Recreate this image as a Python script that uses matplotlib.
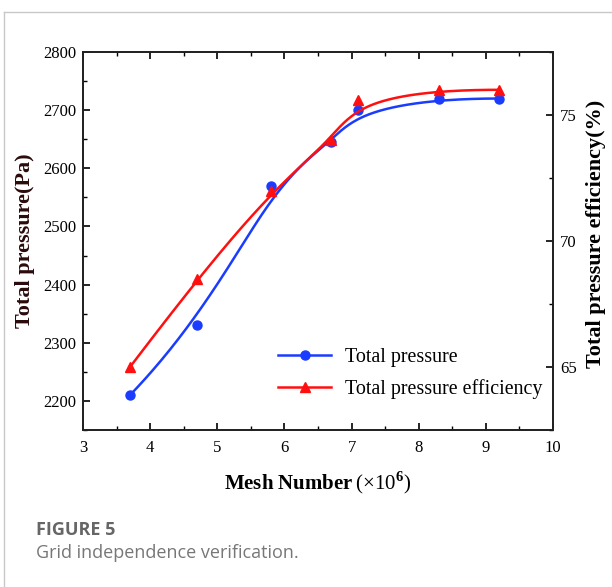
import numpy as np
import matplotlib
matplotlib.use("Agg")
import matplotlib.pyplot as plt
from matplotlib.ticker import MultipleLocator

# Mesh study results
mesh_number = [3.7, 4.7, 5.8, 6.7, 7.1, 8.3, 9.2]          # x10^6 cells
total_pressure = [2210, 2330, 2570, 2645, 2700, 2720, 2720]  # Pa
pressure_efficiency = [65.0, 68.5, 72.0, 74.0, 75.6, 76.0, 76.0]  # %

x_ticks = [3, 4, 5, 6, 7, 8, 9, 10]
left_ticks = [2200, 2300, 2400, 2500, 2600, 2700, 2800]
right_ticks = [65, 70, 75]


def bspline_curve(xs, ys, degree=3, n=400):
    """Clamped uniform B-spline using the measured points as control points."""
    P = np.column_stack([xs, ys]).astype(float)
    m = len(P)
    k = degree
    inner = np.linspace(0, 1, m - k + 1)
    knots = np.concatenate([np.zeros(k), inner, np.ones(k)])
    u = np.linspace(0, 1, n)
    u[-1] = 1 - 1e-12

    # Cox-de Boor recursion
    N = np.zeros((n, len(knots) - 1))
    for i in range(len(knots) - 1):
        N[:, i] = (u >= knots[i]) & (u < knots[i + 1])
    for d in range(1, k + 1):
        Nn = np.zeros((n, len(knots) - 1 - d))
        for i in range(len(knots) - 1 - d):
            a = knots[i + d] - knots[i]
            b = knots[i + d + 1] - knots[i + 1]
            left = (u - knots[i]) / a * N[:, i] if a > 0 else 0
            right = (knots[i + d + 1] - u) / b * N[:, i + 1] if b > 0 else 0
            Nn[:, i] = left + right
        N = Nn
    C = N @ P
    return C[:, 0], C[:, 1]


plt.rcParams["font.family"] = "Liberation Serif"
plt.rcParams["mathtext.fontset"] = "custom"
plt.rcParams["mathtext.rm"] = "Liberation Serif"
plt.rcParams["mathtext.bf"] = "Liberation Serif:bold"

fig = plt.figure(figsize=(6.12, 5.87), dpi=100)
ax = fig.add_axes([83 / 612, 157 / 587, 470 / 612, 378 / 587])
ax2 = ax.twinx()

blue = "#1a3cff"
red = "#ff1010"

bx, by = bspline_curve(mesh_number, total_pressure)
rx, ry = bspline_curve(mesh_number, pressure_efficiency)

ax.plot(bx, by, color=blue, lw=1.8, zorder=3)
ax.plot(mesh_number, total_pressure, "o", color=blue, ms=6.5, zorder=4)
ax2.plot(rx, ry, color=red, lw=1.8, zorder=3)
ax2.plot(mesh_number, pressure_efficiency, "^", color=red, ms=7, zorder=4)

ax.set_xlim(3, 10)
ax.set_ylim(2150, 2800)
ax2.set_ylim(62.5, 77.5)

ax.set_xticks(x_ticks)
ax.xaxis.set_minor_locator(MultipleLocator(0.5))
ax.set_yticks(left_ticks)
ax.yaxis.set_minor_locator(MultipleLocator(50))
ax2.set_yticks(right_ticks)
ax2.yaxis.set_minor_locator(MultipleLocator(2.5))

ax.tick_params(axis="x", which="both", direction="in", top=True, labelsize=12, pad=7)
ax.tick_params(axis="y", which="both", direction="in", right=False, labelsize=12, pad=5)
ax.tick_params(which="major", length=5, width=1.2)
ax.tick_params(which="minor", length=3, width=1.0)
ax2.tick_params(axis="y", which="both", direction="in", labelsize=12, pad=5)
ax2.tick_params(which="major", length=5, width=1.2)
ax2.tick_params(which="minor", length=3, width=1.0)

for a in (ax, ax2):
    for s in a.spines.values():
        s.set_linewidth(1.3)
        s.set_color("#222222")

ax.set_xlabel(r"Mesh Number$\,(\times 10^{\mathbf{6}})$", fontsize=15, fontweight="bold", labelpad=10)
ax.set_ylabel("Total pressure(Pa)", fontsize=16, fontweight="bold", labelpad=6, color="#2a0a0a")
ax2.set_ylabel("Total pressure efficiency(%)", fontsize=16, fontweight="bold", labelpad=6)
ax2.yaxis.set_label_coords(1.07, 0.52)

h1 = plt.Line2D([], [], color=blue, marker="o", lw=1.8, ms=6.5)
h2 = plt.Line2D([], [], color=red, marker="^", lw=1.8, ms=7)
ax.legend([h1, h2], ["Total pressure", "Total pressure efficiency"],
          loc="upper left", bbox_to_anchor=((278 - 83) / 470, (430 - 348) / 378),
          frameon=False, borderpad=0, borderaxespad=0,
          fontsize=14.4, handlelength=2.65, handletextpad=0.7, labelspacing=0.6)

# Panel frame lines
fig.add_artist(plt.Line2D([4 / 612, 1.0], [1 - 12 / 587, 1 - 12 / 587],
                          color="#c8c8c8", lw=1.0, transform=fig.transFigure))
fig.add_artist(plt.Line2D([4 / 612, 4 / 612], [0.0, 1 - 12 / 587],
                          color="#c8c8c8", lw=1.0, transform=fig.transFigure))

# Caption
fig.text(36 / 612, 1 - 530 / 587, "FIGURE 5", fontsize=13, fontweight="bold",
         color="#666666", family="Open Sans", va="center")
fig.text(36 / 612, 1 - 553 / 587, "Grid independence verification.", fontsize=13,
         color="#777777", family="Open Sans", va="center")

fig.savefig("out.png", dpi=100)
